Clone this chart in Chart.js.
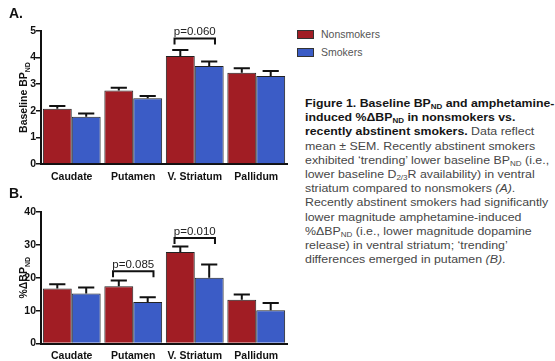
<!DOCTYPE html>
<html>
<head>
<meta charset="utf-8">
<script src="https://cdn.jsdelivr.net/npm/chart.js@4.4.1/dist/chart.umd.min.js"></script>
<style>
  html, body { margin: 0; padding: 0; background: #ffffff; }
  body { width: 555px; height: 361px; position: relative; overflow: hidden; font-family: "Liberation Sans", Arial, sans-serif; }
  canvas { position: absolute; left: 0; }
  #chartA { top: 0; z-index: 2; }
  #chartB { top: 180px; z-index: 1; }
  .panel { position: absolute; left: 9px; font: bold 14px "Liberation Sans", Arial, sans-serif; color: #111; z-index: 3; }
  .legend { position: absolute; left: 297px; font: 10.5px "Liberation Sans", Arial, sans-serif; color: #555; }
  .legend div { height: 18px; display: flex; align-items: center; }
  .legend span.sw { display: inline-block; width: 15px; height: 7px; border: 1px solid #333; margin-right: 7px; }
  .caption { position: absolute; left: 305px; top: 96px; font: 11.5px "Liberation Sans", Arial, sans-serif; color: #474747; line-height: 14.2px; white-space: nowrap; transform: scaleX(1.075); transform-origin: 0 0; }
  .caption b { color: #151515; font-size: 11.45px; }
  .caption sub { font-size: 65%; vertical-align: -2px; line-height: 0; }
</style>
</head>
<body>
<div class="panel" style="top:5px">A.</div>
<div class="panel" style="top:185px">B.</div>
<canvas id="chartA" width="300" height="190"></canvas>
<canvas id="chartB" width="300" height="181"></canvas>
<div class="legend" id="legend" style="top:25px"></div>
<div class="caption">
  <b>Figure 1. Baseline BP<sub>ND</sub> and amphetamine-</b><br>
  <b>induced %ΔBP<sub>ND</sub> in nonsmokers vs.</b><br>
  <b>recently abstinent smokers.</b> Data reflect<br>
  mean ± SEM. Recently abstinent smokers<br>
  exhibited ‘trending’ lower baseline BP<sub>ND</sub> (i.e.,<br>
  lower baseline D<sub>2/3</sub>R availability) in ventral<br>
  striatum compared to nonsmokers <i>(A)</i>.<br>
  Recently abstinent smokers had significantly<br>
  lower magnitude amphetamine-induced<br>
  %ΔBP<sub>ND</sub> (i.e., lower magnitude dopamine<br>
  release) in ventral striatum; ‘trending’<br>
  differences emerged in putamen <i>(B)</i>.
</div>
<script>
// Regions of interest
const regions = ['Caudate', 'Putamen', 'V. Striatum', 'Pallidum'];
const groups = ['Nonsmokers', 'Smokers'];

// Panel A: baseline BPND (mean and SEM)
const baselineNonsmokers = [2.08, 2.76, 4.06, 3.43];
const baselineSmokers = [1.78, 2.47, 3.68, 3.31];
const baselineSemNonsmokers = [0.10, 0.11, 0.23, 0.17];
const baselineSemSmokers = [0.12, 0.09, 0.17, 0.19];
const baselineTicks = [0, 1, 2, 3, 4, 5];
const baselineComparisons = [{ region: 2, value: 4.72, label: 'p=0.060' }];

// Panel B: amphetamine-induced %ΔBPND (mean and SEM)
const changeNonsmokers = [16.7, 17.4, 27.8, 13.3];
const changeSmokers = [15.2, 12.6, 20.0, 10.1];
const changeSemNonsmokers = [1.3, 1.8, 1.7, 1.6];
const changeSemSmokers = [1.8, 1.5, 4.0, 2.2];
const changeTicks = [0, 10, 20, 30, 40];
const changeComparisons = [
  { region: 1, value: 22.0, label: 'p=0.085' },
  { region: 2, value: 32.1, label: 'p=0.010' }
];

const RED = '#a11d24';
const BLUE = '#3b5cc6';
const INK = '#111111';
const FONT = '"Liberation Sans", Arial, sans-serif';

// legend
const legend = document.getElementById('legend');
[[groups[0], RED], [groups[1], BLUE]].forEach(([name, color]) => {
  const row = document.createElement('div');
  row.innerHTML = '<span class="sw" style="background:' + color + '"></span>' + name;
  legend.appendChild(row);
});

// upward-only SEM whiskers with caps
const errorBarPlugin = {
  id: 'errorBars',
  afterDatasetsDraw(chart) {
    const ctx = chart.ctx;
    const y = chart.scales.y;
    ctx.save();
    ctx.strokeStyle = INK;
    ctx.lineWidth = 2;
    chart.data.datasets.forEach((ds, i) => {
      const meta = chart.getDatasetMeta(i);
      meta.data.forEach((bar, j) => {
        const top = y.getPixelForValue(ds.data[j] + ds.sem[j]);
        const half = bar.width * 0.28;
        ctx.beginPath();
        ctx.moveTo(bar.x, bar.y);
        ctx.lineTo(bar.x, top);
        ctx.moveTo(bar.x - half, top);
        ctx.lineTo(bar.x + half, top);
        ctx.stroke();
      });
    });
    ctx.restore();
  }
};

// significance brackets between the two bars of a region
const bracketPlugin = {
  id: 'brackets',
  afterDatasetsDraw(chart, args, opts) {
    const ctx = chart.ctx;
    const y = chart.scales.y;
    const m0 = chart.getDatasetMeta(0), m1 = chart.getDatasetMeta(1);
    ctx.save();
    ctx.strokeStyle = INK;
    ctx.lineWidth = 2;
    ctx.fillStyle = '#222';
    ctx.font = '11.5px ' + FONT;
    ctx.textAlign = 'center';
    ctx.textBaseline = 'alphabetic';
    (opts.items || []).forEach(c => {
      const b0 = m0.data[c.region], b1 = m1.data[c.region];
      const x1 = b0.x - b0.width * 0.2, x2 = b1.x + b1.width * 0.2;
      const py = y.getPixelForValue(c.value);
      ctx.beginPath();
      ctx.moveTo(x1, py + 6);
      ctx.lineTo(x1, py);
      ctx.lineTo(x2, py);
      ctx.lineTo(x2, py + 6);
      ctx.stroke();
      ctx.fillText(c.label, (x1 + x2) / 2, py - 3);
    });
    ctx.restore();
  }
};

// rotated y-axis title with subscript
const yTitlePlugin = {
  id: 'yTitle',
  afterDraw(chart, args, opts) {
    const ctx = chart.ctx;
    const area = chart.chartArea;
    const cy = (area.top + area.bottom) / 2;
    ctx.save();
    ctx.translate(opts.x, cy);
    ctx.rotate(-Math.PI / 2);
    ctx.fillStyle = INK;
    ctx.textBaseline = 'alphabetic';
    ctx.textAlign = 'left';
    const main = 'bold 10.5px ' + FONT, sub = 'bold 7px ' + FONT;
    ctx.font = main;
    const w1 = ctx.measureText(opts.text).width;
    ctx.font = sub;
    const w2 = ctx.measureText(opts.sub).width;
    const x0 = -(w1 + w2) / 2;
    ctx.font = main;
    ctx.fillText(opts.text, x0, 0);
    ctx.font = sub;
    ctx.fillText(opts.sub, x0 + w1, 3);
    ctx.restore();
  }
};

function makeChart(id, nonsmokers, smokers, semN, semS, ticks, comparisons, title, pad, xHeight, labelPad) {
  return new Chart(document.getElementById(id), {
    type: 'bar',
    data: {
      labels: regions,
      datasets: [
        { label: groups[0], data: nonsmokers, sem: semN, backgroundColor: RED, borderColor: '#222', borderWidth: 1 },
        { label: groups[1], data: smokers, sem: semS, backgroundColor: BLUE, borderColor: '#222', borderWidth: 1 }
      ]
    },
    options: {
      responsive: false,
      animation: false,
      devicePixelRatio: 1,
      layout: { padding: { top: pad[0], right: 13, left: 0, bottom: pad[1] } },
      plugins: {
        legend: { display: false },
        tooltip: { enabled: false },
        brackets: { items: comparisons },
        yTitle: { x: 27, text: title, sub: 'ND' }
      },
      datasets: { bar: { categoryPercentage: 0.94, barPercentage: 1.0 } },
      scales: {
        x: {
          afterFit(s) { s.height = xHeight; },
          grid: { display: false },
          border: { color: INK, width: 2 },
          ticks: { color: INK, font: { family: FONT, size: 10.5, weight: 'bold' }, padding: labelPad, maxRotation: 0, autoSkip: false }
        },
        y: {
          min: ticks[0],
          max: ticks[ticks.length - 1],
          afterFit(s) { s.width = 41; },
          afterBuildTicks(s) { s.ticks = ticks.map(v => ({ value: v })); },
          grid: { display: true, drawOnChartArea: false, drawTicks: true, tickLength: 5, color: INK, lineWidth: 1.5 },
          border: { color: INK, width: 2 },
          ticks: { color: INK, font: { family: FONT, size: 10.5, weight: 'bold' }, padding: 0 }
        }
      }
    },
    plugins: [errorBarPlugin, bracketPlugin, yTitlePlugin]
  });
}

makeChart('chartA', baselineNonsmokers, baselineSmokers, baselineSemNonsmokers, baselineSemSmokers,
  baselineTicks, baselineComparisons, 'Baseline BP', [31, 10], 16, -1);
makeChart('chartB', changeNonsmokers, changeSmokers, changeSemNonsmokers, changeSemSmokers,
  changeTicks, changeComparisons, '%ΔBP', [32, 0], 17.5, -2);
</script>
</body>
</html>
